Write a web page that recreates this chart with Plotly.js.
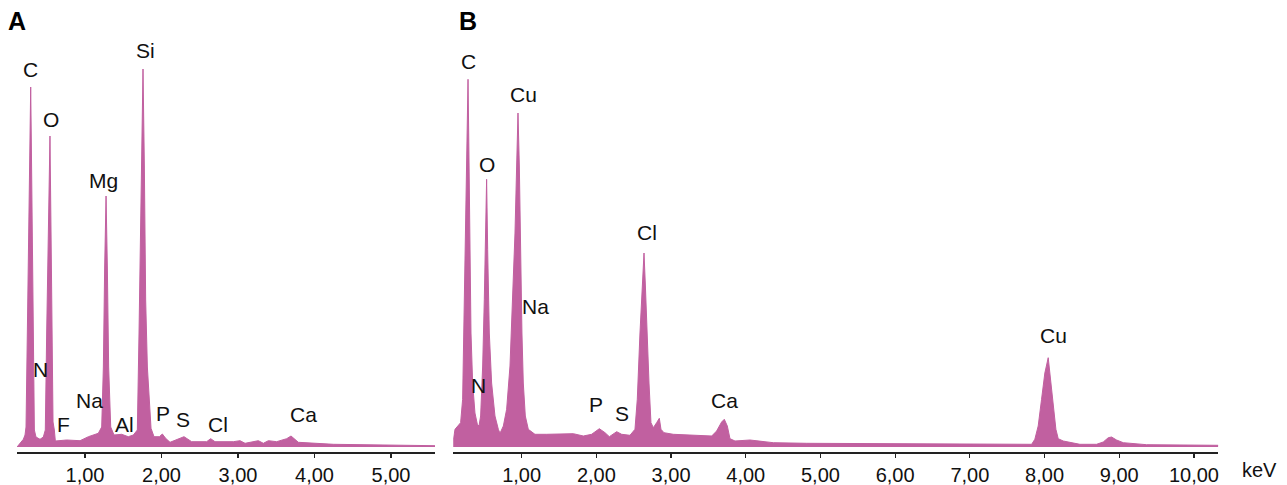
<!DOCTYPE html>
<html>
<head>
<meta charset="utf-8">
<script src="https://cdn.plot.ly/plotly-3.0.1.min.js"></script>
<style>html,body{margin:0;padding:0;background:#fff;}#chart{width:1287px;height:485px;}</style>
</head>
<body>
<div id="chart"></div>
<script>
// Panel A spectrum (energy in keV, counts in arbitrary units)
const energyA = [0.111,0.150,0.194,0.216,0.229,0.246,0.264,0.281,0.290,0.298,0.312,0.325,0.338,0.359,0.412,0.455,0.481,0.499,0.521,0.542,0.556,0.569,0.582,0.599,0.612,0.760,0.935,1.044,1.174,1.218,1.240,1.257,1.275,1.292,1.309,1.336,1.379,1.479,1.566,1.632,1.684,1.706,1.728,1.758,1.776,1.793,1.815,1.841,1.863,1.902,1.972,2.011,2.054,2.111,2.198,2.294,2.394,2.590,2.643,2.699,2.939,3.026,3.092,3.266,3.331,3.397,3.505,3.636,3.693,3.789,4.246,4.900,5.575];
const countsA = [0,3.7,7.7,12,20,114,214,314,360,307,180,64,17,10,7.7,10,17,114,214,311,214,80,25,17,6,7,6.3,10.3,13.7,20,80,180,251,180,80,20,12,12.7,10.3,12,17,114,247,378,280,147,80,47,18.7,10.3,10.3,13,8.7,4.7,7.7,10.3,5.3,5.3,8.3,5.3,5.3,6.3,3.7,6.3,3.7,6.3,5.3,8.3,11,4.7,2.7,2,1.3];

// Panel B spectrum
const energyB = [0.085,0.087,0.108,0.152,0.183,0.210,0.232,0.255,0.273,0.282,0.291,0.304,0.322,0.344,0.375,0.407,0.429,0.451,0.478,0.500,0.518,0.531,0.545,0.567,0.598,0.643,0.688,0.710,0.755,0.799,0.844,0.880,0.911,0.933,0.951,0.969,0.987,1.004,1.022,1.049,1.089,1.178,1.335,1.602,1.692,1.826,1.937,2.040,2.116,2.174,2.227,2.272,2.339,2.450,2.517,2.548,2.584,2.615,2.638,2.655,2.678,2.705,2.731,2.763,2.807,2.843,2.865,2.905,3.030,3.298,3.544,3.610,3.677,3.713,3.753,3.789,3.856,4.057,4.191,4.369,4.815,5.931,6.690,7.827,7.870,7.915,7.960,8.004,8.049,8.080,8.116,8.152,8.183,8.250,8.473,8.696,8.786,8.853,8.897,8.964,9.054,9.366,10.326];
const countsB = [0,8,17.7,21.7,24.3,47.7,147.7,247.7,314,367.7,314,214,114,64,34,22.7,21,31,81,147.7,214,267.7,197.7,114,64,31,17.7,13.7,21,37.7,81,147.7,214,281,334,281,181,114,64,31,17.7,12.7,12.7,13.7,13.3,11,12.7,18.3,14.3,10.3,12.7,15.3,12.7,11.7,17.7,47.7,114,164,194,164,114,64,24.3,19.3,24.3,28.7,17.7,14.3,12.7,11.7,11,16,25,27.7,21,8.3,6,7,6,4.3,3.7,3.3,3.3,2.7,7.7,21,47.7,74,89.3,67.7,41,17.7,8.3,6,2.7,2.7,5,9.3,10,7,4.3,2.3,1.7];

// Tick labels
const tickValsA = [1,2,3,4,5];
const tickTextA = ["1,00","2,00","3,00","4,00","5,00"];
const tickValsB = [1,2,3,4,5,6,7,8,9,10];
const tickTextB = ["1,00","2,00","3,00","4,00","5,00","6,00","7,00","8,00","9,00","10,00"];

// Peak labels
const labelsA = ["C","O","Mg","Si","N","F","Na","Al","P","S","Cl","Ca"];
const labelXA = [0.281,0.552,1.248,1.788,0.412,0.716,1.056,1.510,2.024,2.285,2.735,3.854];
const labelYA = [378,328,267,397,78,23,47,23,34,28,23,33];
const labelsB = ["C","O","Cu","Cl","Na","N","P","S","Ca","Cu"];
const labelXB = [0.285,0.531,1.031,2.681,1.187,0.419,1.991,2.347,3.722,8.126];
const labelYB = [386,283,353,215,141,62,43,34,47,112];

const FILL = "#c160a0";
const FONT = "Liberation Sans, Arial, sans-serif";
const W = 1287;
const PT = 10, PB = 452, PH = PB - PT; // plot area top/bottom in pixels
const py = p => (PB - p) / PH;          // pixel row -> paper y

const traces = [
  {x: energyA, y: countsA, xaxis: "x", yaxis: "y", type: "scatter", mode: "lines",
   fill: "tozeroy", fillcolor: FILL, line: {color: FILL, width: 1}, hoverinfo: "x+y"},
  {x: energyB, y: countsB, xaxis: "x2", yaxis: "y2", type: "scatter", mode: "lines",
   fill: "tozeroy", fillcolor: FILL, line: {color: FILL, width: 1}, hoverinfo: "x+y"}
];

const xCommon = {
  showgrid: false, zeroline: false, showline: true, linecolor: "#222", linewidth: 1.5,
  ticks: "outside", ticklen: 4, tickwidth: 1.2, tickcolor: "#222",
  tickfont: {family: FONT, size: 20, color: "#111"}, tickmode: "array", fixedrange: true
};
const yCommon = {
  range: [-5, 437], visible: false, showgrid: false, zeroline: false, fixedrange: true
};

const annotations = [];
labelsA.forEach((t, i) => annotations.push({
  x: labelXA[i], y: labelYA[i], xref: "x", yref: "y", text: t, showarrow: false,
  xanchor: "center", yanchor: "middle", font: {family: FONT, size: 21, color: "#111"}
}));
labelsB.forEach((t, i) => annotations.push({
  x: labelXB[i], y: labelYB[i], xref: "x2", yref: "y2", text: t, showarrow: false,
  xanchor: "center", yanchor: "middle", font: {family: FONT, size: 21, color: "#111"}
}));
annotations.push({x: 17/W, y: py(21), xref: "paper", yref: "paper", yanchor: "middle", xanchor: "center",
  text: "<b>A</b>", showarrow: false, font: {family: FONT, size: 25, color: "#000"}});
annotations.push({x: 468/W, y: py(21), xref: "paper", yref: "paper", yanchor: "middle", xanchor: "center",
  text: "<b>B</b>", showarrow: false, font: {family: FONT, size: 25, color: "#000"}});
annotations.push({x: 1259/W, y: py(470), xref: "paper", yref: "paper", yanchor: "middle", xanchor: "center",
  text: "keV", showarrow: false, font: {family: FONT, size: 20, color: "#111"}});

const layout = {
  width: 1287, height: 485,
  margin: {l: 0, r: 0, t: PT, b: 485 - PB, pad: 0},
  paper_bgcolor: "#fff", plot_bgcolor: "#fff",
  showlegend: false,
  xaxis: Object.assign({}, xCommon, {domain: [17/W, 435/W], range: [0.111, 5.575],
    tickvals: tickValsA, ticktext: tickTextA, anchor: "y"}),
  yaxis: Object.assign({}, yCommon, {anchor: "x"}),
  xaxis2: Object.assign({}, xCommon, {domain: [453.3/W, 1218.3/W], range: [0.085, 10.326],
    tickvals: tickValsB, ticktext: tickTextB, anchor: "y2"}),
  yaxis2: Object.assign({}, yCommon, {anchor: "x2"}),
  annotations: annotations
};

Plotly.newPlot("chart", traces, layout, {displayModeBar: false, staticPlot: true});
</script>
</body>
</html>
